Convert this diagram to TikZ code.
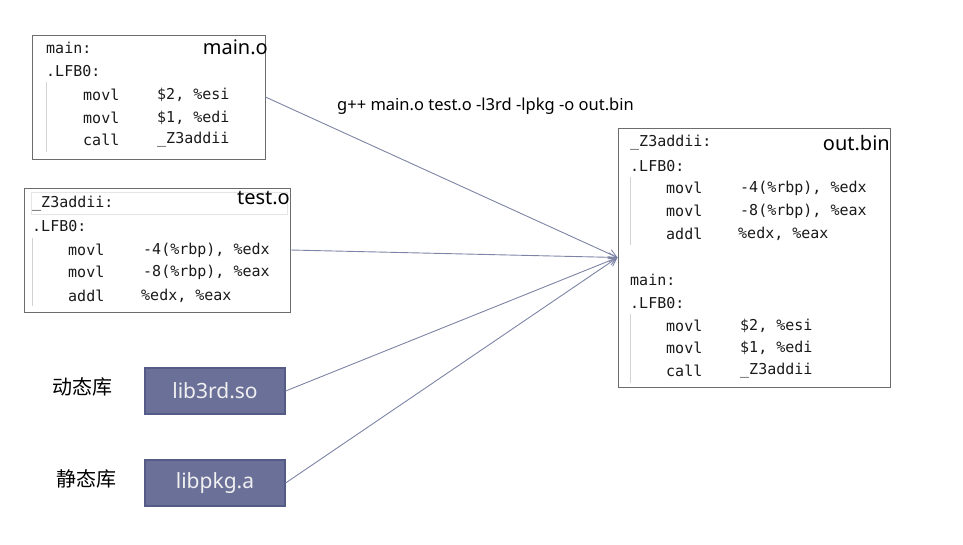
\documentclass[tikz,border=0pt]{standalone}
\usepackage{fontspec}
\setmainfont{Noto Sans}
\setmonofont{DejaVu Sans Mono}
\newfontfamily\cjk{Noto Sans CJK SC}
\usetikzlibrary{arrows.meta}
\definecolor{libfill}{HTML}{6B7099}
\definecolor{libedge}{HTML}{535B86}
\definecolor{linkline}{HTML}{7D84A6}
\tikzset{code box/.style={draw=gray!85!black,line width=0.9pt,inner sep=0pt},
	lib box/.style={draw=libedge,line width=1.2pt,fill=libfill,text=white!94!black,
		minimum width=140pt,minimum height=46pt,inner sep=0pt,font=\fontsize{21}{24}\selectfont},
}

\begin{document}
\begin{tikzpicture}[x=1pt,y=-1pt,>={Straight Barb[length=8pt,width=9pt]},
		code/.style={anchor=west,inner sep=0pt,text=black!90,font=\ttfamily\fontsize{15}{18}\selectfont},
		file/.style={anchor=east,inner sep=0pt,font=\fontsize{20}{24}\selectfont},
		bar/.style={draw=gray!35,line width=1pt}]
		\useasboundingbox (0,0) rectangle (963,544);
		
		% object files and the linked binary
		\node[code box,minimum width=233pt,minimum height=124pt] (maino) at (148.5,97) {};
		\node[code box,minimum width=266pt,minimum height=124pt] (testo) at (157,250) {};
		\node[code box,minimum width=272pt,minimum height=259pt] (outbin) at (754,257.5) {};
		\draw[gray!20,line width=0.8pt] (31,192) rectangle (287,214);
		
		\node[file] (mainolabel) at (268,47) {main.o};
		\node[file] (testolabel) at (290,198) {test.o};
		\node[file] (outbinlabel) at (890,143) {out.bin};
		
		% main.o
		\node[code] (m1) at (46,48) {main:};
		\node[code] (m2) at (46,71) {.LFB0:};
		\node[code] (m3) at (83,95) {movl};
		\node[code] (m3b) at (157,95) {\$2, \%esi};
		\node[code] (m4) at (83,118) {movl};
		\node[code] (m4b) at (157,118) {\$1, \%edi};
		\node[code] (m5) at (83,140) {call};
		\node[code] (m5b) at (157,140) {\_Z3addii};
		\draw[bar] (46,82) -- (46,152);
		
		% test.o
		\node[code] (t1) at (32,204) {\_Z3addii:};
		\node[code] (t2) at (32,226) {.LFB0:};
		\node[code] (t3) at (68,250) {movl};
		\node[code] (t3b) at (143,250) {-4(\%rbp), \%edx};
		\node[code] (t4) at (68,272) {movl};
		\node[code] (t4b) at (143,272) {-8(\%rbp), \%eax};
		\node[code] (t5) at (68,296) {addl};
		\node[code] (t5b) at (141,296) {\%edx, \%eax};
		\draw[bar] (32,238) -- (32,306);
		
		% out.bin
		\node[code] (o1) at (630,143) {\_Z3addii:};
		\node[code] (o2) at (630,166) {.LFB0:};
		\node[code] (o3) at (666,188) {movl};
		\node[code] (o3b) at (740,188) {-4(\%rbp), \%edx};
		\node[code] (o4) at (666,211) {movl};
		\node[code] (o4b) at (740,211) {-8(\%rbp), \%eax};
		\node[code] (o5) at (666,234) {addl};
		\node[code] (o5b) at (738,234) {\%edx, \%eax};
		\node[code] (o6) at (630,280) {main:};
		\node[code] (o7) at (630,303) {.LFB0:};
		\node[code] (o8) at (666,326) {movl};
		\node[code] (o8b) at (740,326) {\$2, \%esi};
		\node[code] (o9) at (666,348) {movl};
		\node[code] (o9b) at (740,348) {\$1, \%edi};
		\node[code] (o10) at (666,371) {call};
		\node[code] (o10b) at (740,371) {\_Z3addii};
		\draw[bar] (630,177) -- (630,245);
		\draw[bar] (630,314) -- (630,383);
		
		% libraries
		\node[lib box] (lib3rd) at (215,391) {lib3rd.so};
		\node[lib box] (libpkg) at (215,483) {libpkg.a};
		\node[anchor=east,inner sep=0pt,font=\cjk\fontsize{20}{24}\selectfont] (dyn) at (113,387) {动态库};
		\node[anchor=east,inner sep=0pt,font=\cjk\fontsize{20}{24}\selectfont] (sta) at (117,479) {静态库};
		
		\node[anchor=west,inner sep=0pt,font=\fontsize{16.5}{20}\selectfont] (cmd) at (337,106) {g++ main.o test.o -l3rd -lpkg -o out.bin};
		
		\path[every edge/.style={draw=linkline,->,line width=0.9pt}]
		(maino.east) edge (outbin.west)
		(testo.east) edge (outbin.west)
		(lib3rd.east) edge (outbin.west)
		(libpkg.east) edge (outbin.west)
		;
\end{tikzpicture}
\end{document}
